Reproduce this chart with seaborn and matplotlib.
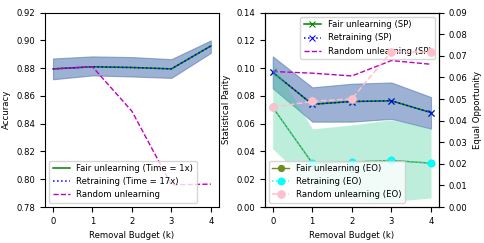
import numpy as np
import pandas as pd
import seaborn as sns
import matplotlib.pyplot as plt

plt.rcParams['font.size'] = 6.1

k = [0, 1, 2, 3, 4]

# left panel: accuracy
acc_fair = [0.8795, 0.881, 0.8805, 0.8795, 0.896]
acc_retrain = [0.8795, 0.881, 0.8805, 0.8795, 0.896]
acc_low = [0.872, 0.8748, 0.874, 0.873, 0.891]
acc_high = [0.887, 0.8885, 0.888, 0.8865, 0.900]
acc_random = [0.8795, 0.881, 0.849, 0.796, 0.7965]

# right panel: statistical parity (left axis)
sp_fair = [0.097, 0.074, 0.076, 0.0765, 0.068]
sp_retrain = [0.097, 0.074, 0.076, 0.0765, 0.068]
sp_low = [0.0855, 0.0615, 0.0615, 0.0635, 0.0565]
sp_high = [0.1085, 0.0862, 0.0888, 0.0897, 0.0792]
sp_random = [0.0976, 0.0964, 0.0944, 0.1055, 0.1028]

# right panel: equal opportunity (twin axis)
eo_fair = [0.0462, 0.0203, 0.0208, 0.0216, 0.0203]
eo_retrain = [0.0462, 0.0203, 0.0208, 0.0216, 0.0203]
eo_low = [0.027, 0.0095, 0.0034, 0.0026, 0.0042]
eo_high = [0.0666, 0.0362, 0.038, 0.0404, 0.0365]
eo_random = [0.0462, 0.0489, 0.0501, 0.072, 0.0717]

fig = plt.figure(figsize=(4.85, 2.43), dpi=100)
ax1 = fig.add_axes([0.093, 0.148, 0.358, 0.8])
ax = fig.add_axes([0.546, 0.148, 0.359, 0.8])

# Accuracy
ax1.fill_between(k, acc_low, acc_high, color='#4c72b0', alpha=0.55, linewidth=0.8)
sns.lineplot(x=k, y=acc_fair, ax=ax1, color='green', linewidth=1.1, label='Fair unlearning (Time = 1x)')
sns.lineplot(x=k, y=acc_retrain, ax=ax1, color='blue', linestyle=':', linewidth=1.1, label='Retraining (Time = 17x)')
sns.lineplot(x=k, y=acc_random, ax=ax1, color='m', linestyle='--', linewidth=1.0, label='Random unlearning')
ax1.set_ylim(0.78, 0.92)
ax1.set_xticks(k)
ax1.set_xlabel('Removal Budget (k)')
ax1.set_ylabel('Accuracy')
ax1.legend(loc='lower left', fontsize=6.1)

# Statistical parity
ax.fill_between(k, sp_low, sp_high, color='#4c72b0', alpha=0.55, linewidth=0.8)
sns.lineplot(x=k, y=sp_fair, ax=ax, color='green', marker='x', markersize=5, linewidth=1.1,
             markeredgecolor='green', label='Fair unlearning (SP)')
sns.lineplot(x=k, y=sp_retrain, ax=ax, color='blue', linestyle=':', marker='x', markersize=5, linewidth=1.1,
             markeredgecolor='blue', label='Retraining (SP)')
sns.lineplot(x=k, y=sp_random, ax=ax, color='m', linestyle='--', linewidth=1.0, label='Random unlearning (SP)')
ax.set_ylim(0, 0.14)
ax.set_xticks(k)
ax.set_xlabel('Removal Budget (k)')
ax.set_ylabel('Statistical Parity')
ax.legend(loc='upper right', fontsize=6.1)

# Equal opportunity
ax2 = ax.twinx()
ax2.fill_between(k, eo_low, eo_high, color='#3fcf9a', alpha=0.35, linewidth=0)
sns.lineplot(x=k, y=eo_fair, ax=ax2, color='olivedrab', marker='o', markersize=4.5, linewidth=1.0,
             markeredgecolor='olivedrab', label='Fair unlearning (EO)')
sns.lineplot(x=k, y=eo_retrain, ax=ax2, color='cyan', linestyle=':', marker='o', markersize=5, linewidth=1.1,
             markeredgecolor='cyan', label='Retraining (EO)')
sns.lineplot(x=k, y=eo_random, ax=ax2, color='pink', linestyle='--', marker='o', markersize=5.5, linewidth=1.1,
             markeredgecolor='pink', label='Random unlearning (EO)')
ax2.set_ylim(0, 0.09)
ax2.set_ylabel('Equal Opportunity')
ax2.legend(loc='lower left', fontsize=6.1)

plt.savefig('out.png')
